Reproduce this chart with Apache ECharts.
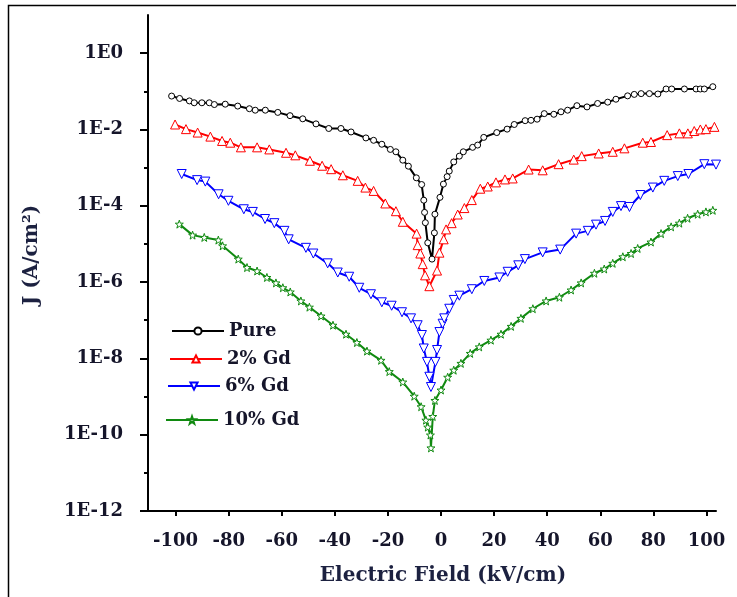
<!DOCTYPE html>
<html>
<head>
<meta charset="utf-8">
<script src="https://cdn.jsdelivr.net/npm/echarts@6/dist/echarts.min.js"></script>
<style>
  html, body { margin: 0; padding: 0; background: #fff; overflow: hidden; }
  #chart { width: 737px; height: 597px; }
</style>
</head>
<body>
<div id="chart"></div>
<script>
// J–E characteristics (log current density vs electric field)
const seriesNames = ['Pure', '2% Gd', '6% Gd', '10% Gd'];

const pureField = [-101.5,-98.5,-94.8,-93.0,-90.1,-87.3,-85.4,-81.3,-76.6,-72.2,-70.0,-66.2,-61.5,-56.9,-52.1,-47.1,-42.3,-37.7,-33.9,-28.3,-25.4,-22.3,-19.1,-17.0,-14.4,-12.3,-9.3,-7.3,-6.5,-6.2,-5.9,-5.0,-3.4,-2.5,-2.3,-0.4,0.9,2.3,3.1,4.8,6.9,8.4,11.9,13.8,16.1,21.0,24.9,27.6,31.7,33.9,36.2,38.9,42.5,45.2,47.7,51.2,55.0,59.0,62.8,65.9,70.3,72.8,75.4,78.5,81.7,84.8,86.9,91.7,96.1,97.7,99.2,102.4];
const pureJ = [7.5e-2,6.5e-2,5.6e-2,5.0e-2,5.0e-2,5.0e-2,4.5e-2,4.6e-2,4.1e-2,3.5e-2,3.2e-2,3.2e-2,2.8e-2,2.3e-2,1.9e-2,1.4e-2,1.06e-2,1.06e-2,8.6e-3,6.0e-3,5.2e-3,4.1e-3,3.0e-3,2.6e-3,1.57e-3,1.09e-3,5.4e-4,3.6e-4,1.4e-4,6.7e-5,3.6e-5,1.07e-5,4.0e-6,1.95e-5,6.0e-5,1.66e-4,3.7e-4,5.8e-4,8.1e-4,1.41e-3,2.0e-3,2.6e-3,3.4e-3,3.9e-3,6.2e-3,8.3e-3,1.02e-2,1.35e-2,1.7e-2,1.74e-2,1.86e-2,2.6e-2,2.5e-2,2.9e-2,3.2e-2,4.2e-2,3.9e-2,4.8e-2,5.2e-2,6.2e-2,7.6e-2,8.3e-2,8.7e-2,8.7e-2,8.5e-2,0.115,0.115,0.115,0.115,0.115,0.115,0.132];

const gd2Field = [-100.2,-96.1,-91.7,-86.9,-82.5,-79.4,-75.4,-69.3,-64.7,-58.4,-54.9,-49.4,-44.8,-41.4,-37.0,-31.4,-28.5,-25.4,-21.0,-17.0,-14.4,-9.2,-8.8,-7.8,-6.9,-6.0,-4.4,-1.5,-0.6,1.0,1.9,4.0,6.3,8.8,11.6,14.8,17.6,20.7,24.1,27.0,33.0,38.3,44.3,50.0,53.0,59.4,64.7,69.1,76.0,79.1,85.2,89.8,93.0,95.4,97.7,99.8,103.0];
const gd2J = [1.35e-2,1.02e-2,8.3e-3,6.5e-3,5.0e-3,4.5e-3,3.4e-3,3.4e-3,3.0e-3,2.45e-3,2.1e-3,1.51e-3,1.12e-3,9.1e-4,6.3e-4,4.5e-4,3.0e-4,2.45e-4,1.15e-4,7.2e-5,3.8e-5,1.86e-5,9.3e-6,5.6e-6,2.95e-6,1.5e-6,7.8e-7,2.0e-6,5.9e-6,1.32e-5,2.4e-5,3.5e-5,5.9e-5,8.7e-5,1.41e-4,2.8e-4,3.2e-4,4.1e-4,4.9e-4,5.2e-4,8.9e-4,8.5e-4,1.23e-3,1.62e-3,2.0e-3,2.35e-3,2.6e-3,3.2e-3,4.5e-3,4.7e-3,7.1e-3,7.9e-3,7.9e-3,9.1e-3,1.0e-2,1.02e-2,1.17e-2];

const gd6Field = [-97.7,-91.9,-88.8,-83.8,-80.1,-74.3,-70.9,-66.3,-62.8,-59.0,-57.4,-50.9,-48.1,-42.7,-38.9,-34.6,-30.8,-26.4,-22.3,-18.6,-14.7,-11.3,-8.8,-7.2,-6.5,-5.3,-4.4,-3.8,-2.1,-1.5,-0.6,0.6,1.2,3.1,4.8,6.9,11.6,16.3,22.0,25.1,29.1,31.6,38.3,44.9,50.9,55.3,58.4,61.8,64.7,67.8,71.0,75.1,79.8,84.1,89.2,93.2,99.2,103.6];
const gd6J = [6.8e-4,4.7e-4,4.3e-4,2.0e-4,1.35e-4,8.1e-5,6.9e-5,4.5e-5,3.5e-5,2.2e-5,1.32e-5,7.9e-6,5.6e-6,3.1e-6,1.78e-6,1.38e-6,7.1e-7,4.8e-7,2.95e-7,2.4e-7,1.62e-7,1.12e-7,7.4e-8,4.1e-8,1.82e-8,8.1e-9,3.3e-9,1.78e-9,8.1e-9,1.66e-8,4.9e-8,8.1e-8,1.12e-7,2.0e-7,3.4e-7,4.4e-7,6.5e-7,1.07e-6,1.32e-6,1.86e-6,2.75e-6,4.0e-6,6.0e-6,7.1e-6,1.86e-5,2.2e-5,3.2e-5,4.0e-5,6.9e-5,9.8e-5,9.3e-5,1.91e-4,3.0e-4,4.5e-4,6.0e-4,6.8e-4,1.23e-3,1.2e-3];

const gd10Field = [-98.6,-93.6,-89.2,-83.9,-82.3,-76.4,-73.1,-69.3,-65.6,-62.2,-59.6,-56.8,-52.8,-49.6,-45.2,-40.7,-35.8,-31.7,-27.9,-22.6,-19.5,-14.4,-10.1,-7.5,-5.7,-5.0,-4.0,-3.8,-3.1,-2.3,0.0,2.5,4.8,7.5,11.0,14.4,18.8,22.6,26.4,30.1,34.6,39.6,44.6,49.0,52.8,57.8,61.5,64.7,68.5,71.6,74.1,79.1,82.9,86.7,89.8,92.9,96.7,99.8,102.4];
const gd10J = [3.3e-5,1.7e-5,1.48e-5,1.26e-5,8.9e-6,4.0e-6,2.4e-6,1.95e-6,1.32e-6,9.5e-7,7.1e-7,5.5e-7,3.2e-7,2.2e-7,1.29e-7,7.4e-8,4.3e-8,2.6e-8,1.55e-8,8.9e-9,4.5e-9,2.4e-9,1.02e-9,5.4e-10,2.4e-10,1.58e-10,9.8e-11,4.5e-11,3.0e-10,7.9e-10,1.48e-9,3.2e-9,4.9e-9,7.4e-9,1.35e-8,2.0e-8,3.0e-8,4.3e-8,6.9e-8,1.12e-7,2.0e-7,3.2e-7,4.0e-7,6.2e-7,9.5e-7,1.7e-6,2.2e-6,3.1e-6,4.6e-6,5.6e-6,7.6e-6,1.12e-5,1.86e-5,2.8e-5,3.5e-5,4.7e-5,6.0e-5,6.9e-5,7.6e-5];

// Axis tick and label values
const fieldTicks = [-100, -80, -60, -40, -20, 0, 20, 40, 60, 80, 100];
const jDecadeTicks = [1e-12,1e-11,1e-10,1e-9,1e-8,1e-7,1e-6,1e-5,1e-4,1e-3,1e-2,1e-1,1e0];
const jLabelTicks = [1e-12,1e-10,1e-8,1e-6,1e-4,1e-2,1e0];

const zip = (xs, ys) => xs.map((x, i) => [x, ys[i]]);

const SERIF = '"DejaVu Serif", "Liberation Serif", serif';
const INK = '#15152a';
const STAR = 'path://M0,-10L2.35,-3.24L9.51,-3.09L3.8,1.24L5.88,8.09L0,4L-5.88,8.09L-3.8,1.24L-9.51,-3.09L-2.35,-3.24Z';

const styles = [
  { color: '#000000', symbol: 'circle', size: 6, rotate: 0 },
  { color: '#ff0000', symbol: 'triangle', size: 9, rotate: 0 },
  { color: '#0000ff', symbol: 'triangle', size: 9, rotate: 180 },
  { color: '#108a10', symbol: STAR, size: 8, rotate: 0 }
];
const dataSets = [zip(pureField, pureJ), zip(gd2Field, gd2J), zip(gd6Field, gd6J), zip(gd10Field, gd10J)];

const series = seriesNames.map((name, i) => ({
  name,
  type: 'line',
  data: dataSets[i],
  xAxisIndex: 0,
  yAxisIndex: 0,
  symbol: styles[i].symbol,
  symbolSize: styles[i].size,
  symbolRotate: styles[i].rotate,
  showAllSymbol: true,
  lineStyle: { color: styles[i].color, width: 2 },
  itemStyle: { color: '#ffffff', borderColor: styles[i].color, borderWidth: 1 },
  emphasis: { disabled: true },
  animation: false
}));

const legendTops = [317, 345, 372, 406];
const legendLefts = [166, 164, 162, 160];
const legends = seriesNames.map((name, i) => ({
  data: [name],
  left: legendLefts[i],
  top: legendTops[i],
  orient: 'horizontal',
  itemWidth: 52,
  itemHeight: 9,
  itemGap: 0,
  selectedMode: false,
  textStyle: { fontFamily: SERIF, fontWeight: 'bold', fontSize: 18, color: INK, padding: [0, 0, 0, 0] }
}));

const chart = echarts.init(document.getElementById('chart'), null, { renderer: 'canvas' });
chart.setOption({
  animation: false,
  backgroundColor: '#ffffff',
  grid: { left: 148, top: 15, width: 568, height: 496, containLabel: false },
  legend: legends,
  xAxis: {
    type: 'value',
    min: -110.4,
    max: 103.6,
    splitLine: { show: false },
    axisLine: { show: true, onZero: false, lineStyle: { color: '#000', width: 2 } },
    axisTick: { show: true, inside: false, length: 5, customValues: fieldTicks, lineStyle: { color: '#000', width: 2 } },
    axisLabel: {
      customValues: fieldTicks,
      margin: 21,
      fontFamily: SERIF, fontWeight: 'bold', fontSize: 18, color: INK
    }
  },
  yAxis: [
    {
      type: 'log',
      logBase: 10,
      min: 1e-12,
      max: 10,
      position: 'left',
      splitLine: { show: false },
      minorTick: { show: false },
      axisLine: { show: true, onZero: false, lineStyle: { color: '#000', width: 2 } },
      axisTick: { show: true, inside: false, length: 4, customValues: jDecadeTicks, lineStyle: { color: '#000', width: 2 } },
      axisLabel: { show: false }
    },
    {
      type: 'log',
      logBase: 10,
      min: 1e-12,
      max: 10,
      position: 'left',
      offset: 0,
      splitLine: { show: false },
      axisLine: { show: false, onZero: false },
      axisTick: { show: true, inside: false, length: 8, customValues: jLabelTicks, lineStyle: { color: '#000', width: 2 } },
      axisLabel: {
        customValues: jLabelTicks,
        margin: 25,
        fontFamily: SERIF, fontWeight: 'bold', fontSize: 18, color: INK,
        formatter: v => '1E' + Math.round(Math.log10(v))
      }
    }
  ],
  series,
  graphic: [
    {
      type: 'polyline',
      silent: true,
      shape: { points: [[8.5, 620], [8.5, 5.5], [736, 5.5]] },
      style: { stroke: '#000', lineWidth: 1.5, fill: null }
    },
    {
      type: 'text',
      silent: true,
      x: 443, y: 576,
      style: {
        text: 'Electric Field (kV/cm)',
        fontFamily: SERIF, fontWeight: 'bold', fontSize: 20,
        fill: '#1c2140', align: 'center', verticalAlign: 'middle'
      }
    },
    {
      type: 'text',
      silent: true,
      x: 32, y: 255,
      rotation: Math.PI / 2,
      style: {
        text: 'J (A/cm²)',
        fontFamily: SERIF, fontWeight: 'bold', fontSize: 20,
        fill: '#1c2140', align: 'center', verticalAlign: 'middle'
      }
    }
  ]
});
</script>
</body>
</html>
